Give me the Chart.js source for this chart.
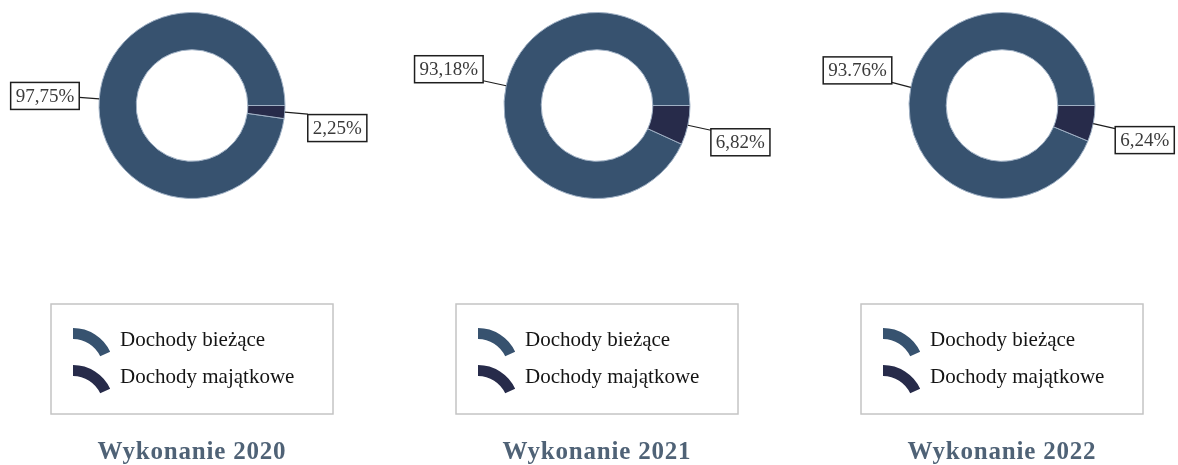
<!DOCTYPE html>
<html>
<head>
<meta charset="utf-8">
<script src="https://cdn.jsdelivr.net/npm/chart.js@4.4.1/dist/chart.umd.min.js"></script>
<style>
  html, body { margin: 0; padding: 0; background: #fff; overflow: hidden; }
  #wrap { position: relative; width: 1178px; height: 465px; }
  .cell { position: absolute; top: 0; width: 392px; height: 465px; }
</style>
</head>
<body>
<div id="wrap">
  <div class="cell" style="left:0px"><canvas id="chart2020" width="392" height="465"></canvas></div>
  <div class="cell" style="left:392px"><canvas id="chart2021" width="392" height="465"></canvas></div>
  <div class="cell" style="left:784px"><canvas id="chart2022" width="392" height="465"></canvas></div>
</div>
<script>
// DATA
const categories = ['Dochody bieżące', 'Dochody majątkowe'];
const years = ['2020', '2021', '2022'];
const values2020 = [97.75, 2.25];
const values2021 = [93.18, 6.82];
const values2022 = [93.76, 6.24];
const valueLabels2020 = ['97,75%', '2,25%'];
const valueLabels2021 = ['93,18%', '6,82%'];
const valueLabels2022 = ['93.76%', '6,24%'];

const sliceColors = ['#37526f', '#272b4a'];
const serif = '"Liberation Serif", "Times New Roman", serif';

// callout boxes with leader lines, anchored on the outer edge of each slice
const calloutPlugin = {
    id: 'callouts',
    afterDatasetsDraw: function (chart, args, opts) {
        const ctx = chart.ctx;
        const meta = chart.getDatasetMeta(0);
        ctx.save();
        ctx.font = '19px ' + serif;
        ctx.textAlign = 'center';
        ctx.textBaseline = 'middle';
        meta.data.forEach(function (arc, i) {
            const c = opts.offsets[i];
            const mid = (arc.startAngle + arc.endAngle) / 2;
            const ax = arc.x + Math.cos(mid) * arc.outerRadius;
            const ay = arc.y + Math.sin(mid) * arc.outerRadius;
            const ex = ax + c.dx, ey = ay + c.dy;
            ctx.strokeStyle = '#1e1e1e';
            ctx.lineWidth = 1.2;
            ctx.beginPath();
            ctx.moveTo(ax, ay);
            ctx.lineTo(ex, ey);
            ctx.stroke();
            const text = opts.texts[i];
            const w = ctx.measureText(text).width + 10;
            const h = 27;
            const bx = c.dx < 0 ? ex - w : ex;
            const by = ey + c.boxDy - h / 2;
            ctx.fillStyle = '#fff';
            ctx.fillRect(bx, by, w, h);
            ctx.lineWidth = 1.5;
            ctx.strokeRect(bx, by, w, h);
            ctx.fillStyle = '#3a3a3a';
            ctx.fillText(text, bx + w / 2, by + h / 2 + 1);
        });
        ctx.restore();
    }
};

// boxed legend with ring-segment icons
const boxLegendPlugin = {
    id: 'boxLegend',
    afterDraw: function (chart) {
        const ctx = chart.ctx;
        const area = chart.chartArea;
        const cx = (area.left + area.right) / 2;
        const left = cx - 141, top = 304, w = 282, h = 110;
        ctx.save();
        ctx.strokeStyle = '#c4c4c4';
        ctx.lineWidth = 1.5;
        ctx.strokeRect(left, top, w, h);
        ctx.font = '21px ' + serif;
        ctx.textAlign = 'left';
        ctx.textBaseline = 'middle';
        chart.data.labels.forEach(function (label, i) {
            const ty = top + 36 + i * 37;
            const ix = left + 22, iy = ty - 12;
            const R = 41, r = 30;
            const a0 = -Math.PI / 2, a1 = -25 * Math.PI / 180;
            ctx.fillStyle = chart.data.datasets[0].backgroundColor[i];
            ctx.beginPath();
            ctx.arc(ix, iy + R, R, a0, a1);
            ctx.arc(ix, iy + R, r, a1, a0, true);
            ctx.closePath();
            ctx.fill();
            ctx.fillStyle = '#141414';
            ctx.fillText(label, left + 69, ty);
        });
        ctx.restore();
    }
};

// spaced bold title
const spacingPlugin = {
    id: 'titleSpacing',
    beforeDraw: function (chart) { chart.ctx.letterSpacing = '0.8px'; },
    beforeDatasetsDraw: function (chart) { chart.ctx.letterSpacing = '0px'; }
};

function makeDoughnut(id, year, values, texts, pad, offsets) {
    new Chart(document.getElementById(id), {
        type: 'doughnut',
        data: {
            labels: categories,
            datasets: [{
                data: values,
                backgroundColor: sliceColors,
                borderColor: '#9fb0c4',
                borderWidth: 1
            }]
        },
        options: {
            responsive: false,
            animation: false,
            events: [],
            cutout: '60%',
            rotation: 90 - values[0] * 3.6,
            layout: { padding: { left: pad.left, right: pad.right, top: 12, bottom: 0 } },
            plugins: {
                legend: { display: false },
                tooltip: { enabled: false },
                title: {
                    display: true,
                    position: 'bottom',
                    text: 'Wykonanie ' + year,
                    color: '#4f6276',
                    font: { family: serif, size: 25, weight: 'bold', lineHeight: 1.0 },
                    padding: { top: 241, bottom: 0 }
                },
                callouts: { texts: texts, offsets: offsets }
            }
        },
        plugins: [spacingPlugin, calloutPlugin, boxLegendPlugin]
    });
}

makeDoughnut('chart2020', years[0], values2020, valueLabels2020, { left: 0, right: 8 },
    [{ dx: -20, dy: -1.5, boxDy: -1.5 }, { dx: 23, dy: 2, boxDy: 14 }]);
makeDoughnut('chart2021', years[1], values2021, valueLabels2021, { left: 18, right: 0 },
    [{ dx: -23, dy: -5, boxDy: -11.5 }, { dx: 23, dy: 5, boxDy: 12 }]);
makeDoughnut('chart2022', years[2], values2022, valueLabels2022, { left: 44, right: 0 },
    [{ dx: -19, dy: -5, boxDy: -12 }, { dx: 22, dy: 5, boxDy: 11.5 }]);
</script>
</body>
</html>
